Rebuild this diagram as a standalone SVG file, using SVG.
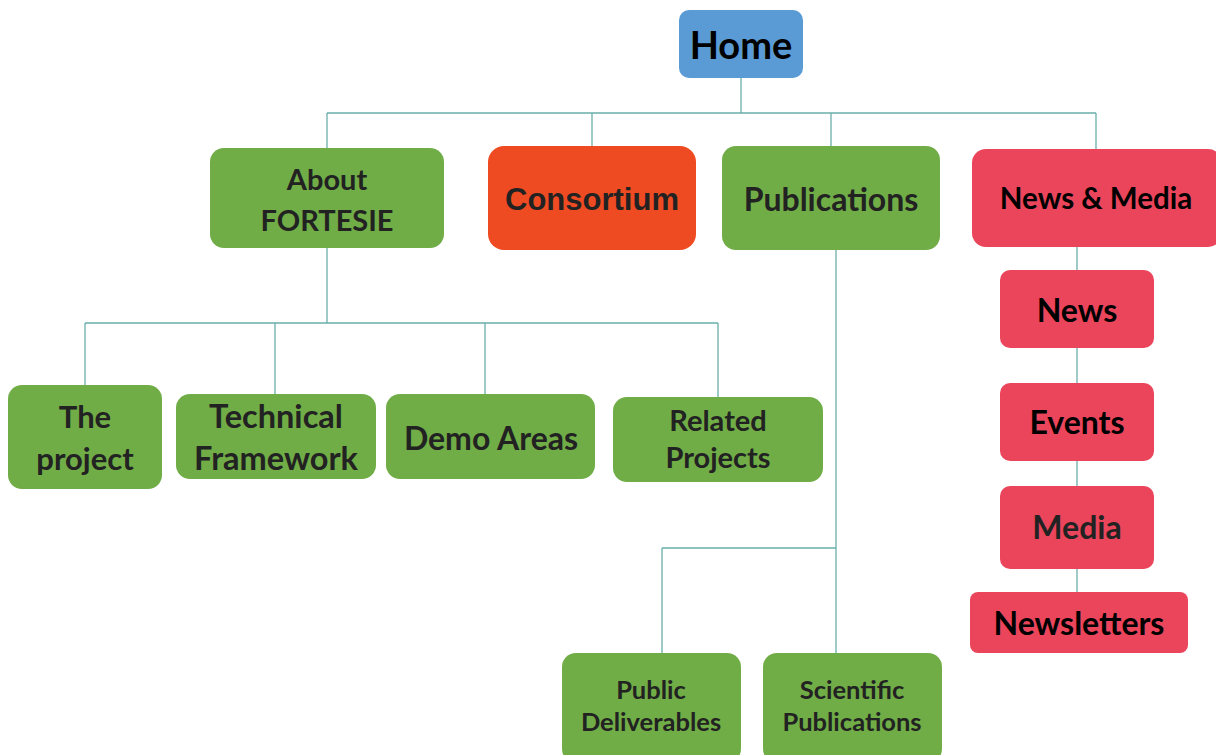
<svg xmlns="http://www.w3.org/2000/svg" width="1216" height="755" viewBox="0 0 1216 755">
<style>
.c{fill:none;stroke:#6aaeaa;stroke-width:1.3}
.t{font-family:Lato,"Open Sans","Liberation Sans",sans-serif;font-weight:bold;fill:#222;text-anchor:middle}
.k{fill:#000}
.g{fill:#70ad47}
.r{fill:#ea455b}
</style>
<rect width="1216" height="755" fill="#fff"/>
<g id="connectors">
<path class="c" d="M741 78V113M327 113H1096M327 113V148M592 113V146M831 113V146M1096 113V149"/>
<path class="c" d="M327 248V323M85 323H718M85 323V385M275 323V394M485 323V394M718 323V397"/>
<path class="c" d="M836 250V653M662 548H836M662 548V653"/>
<path class="c" d="M1077 247V592"/>
</g>
<g id="home"><rect x="679" y="10" width="124" height="68" rx="10" fill="#5b9bd5"/><text class="t k" x="741" y="59" font-size="38">Home</text></g>
<g id="about"><rect class="g" x="210" y="148" width="234" height="100" rx="14"/><text class="t" x="327" y="190" font-size="29">About</text><text class="t" x="327" y="231" font-size="29">FORTESIE</text></g>
<g id="consortium"><rect x="488" y="146" width="208" height="104" rx="16" fill="#ef4b23"/><text class="t" x="592" y="210" font-size="31" style="font-family:'Liberation Sans',Arial,sans-serif">Consortium</text></g>
<g id="publications"><rect class="g" x="722" y="146" width="218" height="104" rx="14"/><text class="t" x="831" y="211" font-size="32">Publications</text></g>
<g id="newsmedia"><rect class="r" x="972" y="149" width="250" height="98" rx="14"/><text class="t k" x="1096" y="209" font-size="29.5">News &amp; Media</text></g>
<g id="theproject"><rect class="g" x="8" y="385" width="154" height="104" rx="14"/><text class="t" x="85" y="428" font-size="31">The</text><text class="t" x="85" y="470" font-size="31">project</text></g>
<g id="technical"><rect class="g" x="176" y="394" width="200" height="85" rx="14"/><text class="t" x="276" y="428" font-size="32.5">Technical</text><text class="t" x="276" y="470" font-size="32.5">Framework</text></g>
<g id="demo"><rect class="g" x="386" y="394" width="209" height="85" rx="14"/><text class="t" x="491" y="450" font-size="32">Demo Areas</text></g>
<g id="related"><rect class="g" x="613" y="397" width="210" height="85" rx="14"/><text class="t" x="718" y="431" font-size="29">Related</text><text class="t" x="718" y="468" font-size="29">Projects</text></g>
<g id="public"><rect class="g" x="562" y="653" width="179" height="110" rx="14"/><text class="t" x="651" y="699" font-size="25.5">Public</text><text class="t" x="651" y="731" font-size="25.5">Deliverables</text></g>
<g id="scientific"><rect class="g" x="763" y="653" width="179" height="110" rx="14"/><text class="t" x="852" y="699" font-size="25.5">Scientific</text><text class="t" x="852" y="731" font-size="25.5">Publications</text></g>
<g id="news"><rect class="r" x="1000" y="270" width="154" height="78" rx="10"/><text class="t k" x="1077" y="322" font-size="32">News</text></g>
<g id="events"><rect class="r" x="1000" y="383" width="154" height="78" rx="10"/><text class="t k" x="1077" y="434" font-size="32">Events</text></g>
<g id="media"><rect class="r" x="1000" y="486" width="154" height="83" rx="10"/><text class="t" x="1077" y="539" font-size="32">Media</text></g>
<g id="newsletters"><rect class="r" x="970" y="592" width="218" height="61" rx="8"/><text class="t k" x="1079" y="635" font-size="32">Newsletters</text></g>
</svg>
